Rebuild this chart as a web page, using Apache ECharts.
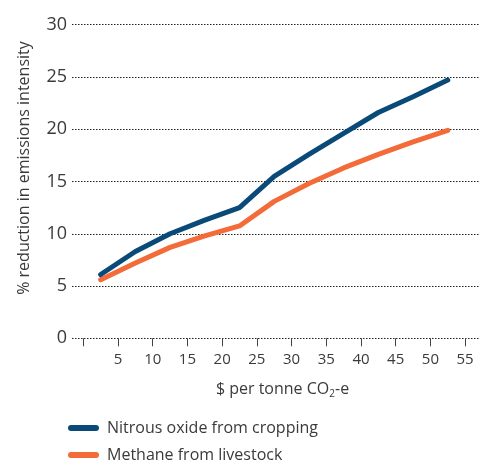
<!DOCTYPE html>
<html>
<head>
<meta charset="utf-8">
<script src="https://cdn.jsdelivr.net/npm/echarts@6/dist/echarts.min.js"></script>
<style>
html,body{margin:0;padding:0;background:#fff;}
#chart{width:479px;height:461px;}
</style>
</head>
<body>
<div id="chart"></div>
<script>
const xValues = [2.5, 7.5, 12.5, 17.5, 22.5, 27.5, 32.5, 37.5, 42.5, 47.5, 52.5];
const nitrousOxide = [6.1, 8.3, 10.0, 11.3, 12.5, 15.5, 17.6, 19.6, 21.6, 23.1, 24.7];
const methane = [5.6, 7.2, 8.7, 9.8, 10.75, 13.1, 14.8, 16.3, 17.6, 18.8, 19.9];
const xTickValues = [0, 5, 10, 15, 20, 25, 30, 35, 40, 45, 50, 55];
const xLabelValues = [5, 10, 15, 20, 25, 30, 35, 40, 45, 50, 55];
const seriesNames = ['Nitrous oxide from cropping', 'Methane from livestock'];

const FONT = '"Open Sans", "Noto Sans", sans-serif';
const TXT = '#3a3a3a';
const BLUE = '#0a4a78';
const ORANGE = '#f26b38';

function legendFor(name, top) {
  return {
    orient: 'vertical',
    left: 68,
    top: top,
    padding: 0,
    itemWidth: 31,
    itemHeight: 6,
    icon: 'path://M3,0 L28,0 A3,3 0 0 1 28,6 L3,6 A3,3 0 0 1 3,0 Z',
    textStyle: {fontFamily: FONT, fontSize: 16, color: TXT, lineHeight: 14, padding: [0, 0, 0, 3]},
    data: [name]
  };
}

const chart = echarts.init(document.getElementById('chart'), null, {renderer: 'canvas'});
chart.setOption({
  animation: false,
  backgroundColor: '#fff',
  textStyle: {fontFamily: FONT},
  grid: {left: 72, right: 0, top: 24.7, bottom: 122.7, containLabel: false},
  xAxis: {
    type: 'value',
    min: -1.63,
    max: 57.0,
    name: '$ per tonne CO{sub|2}-e',
    nameLocation: 'middle',
    nameGap: 41,
    nameTextStyle: {
      fontFamily: FONT, fontSize: 16, color: TXT, padding: [0, 0, 0, 14],
      rich: {sub: {fontFamily: FONT, fontSize: 10, color: TXT, padding: [10, 0, 0, 0]}}
    },
    axisLine: {show: false},
    axisTick: {show: true, customValues: xTickValues, length: 8, lineStyle: {color: '#444', width: 1}},
    axisLabel: {customValues: xLabelValues, fontFamily: FONT, fontSize: 15, color: TXT, margin: 14},
    splitLine: {show: false}
  },
  yAxis: {
    type: 'value',
    min: 0,
    max: 30,
    interval: 5,
    name: '% reduction in emissions intensity',
    nameLocation: 'middle',
    nameGap: 40,
    nameTextStyle: {fontFamily: FONT, fontSize: 16, color: TXT, padding: [0, 0, 0, 27]},
    axisLine: {show: false},
    axisTick: {show: false},
    axisLabel: {fontFamily: FONT, fontSize: 18, color: TXT, margin: 5},
    splitLine: {show: true, lineStyle: {color: '#222', width: 1, type: [1.5, 1.5]}}
  },
  legend: [legendFor(seriesNames[0], 420), legendFor(seriesNames[1], 447)],
  series: [
    {
      name: seriesNames[0],
      type: 'line',
      data: xValues.map((x, i) => [x, nitrousOxide[i]]),
      showSymbol: false,
      color: BLUE,
      lineStyle: {color: BLUE, width: 5, cap: 'round', join: 'round'},
      z: 3
    },
    {
      name: seriesNames[1],
      type: 'line',
      data: xValues.map((x, i) => [x, methane[i]]),
      showSymbol: false,
      color: ORANGE,
      lineStyle: {color: ORANGE, width: 5, cap: 'round', join: 'round'},
      z: 2
    }
  ]
});
</script>
</body>
</html>
